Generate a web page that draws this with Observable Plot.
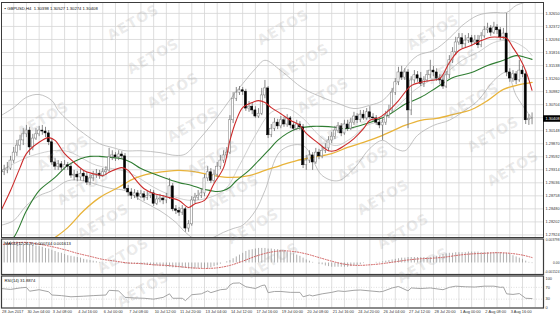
<!DOCTYPE html>
<html><head><meta charset="utf-8">
<script src="https://cdn.jsdelivr.net/npm/d3@7"></script>
<script src="https://cdn.jsdelivr.net/npm/@observablehq/plot@0.6"></script>
<style>
html,body{margin:0;padding:0;background:#fff;}
#wrap{position:relative;width:560px;height:317px;overflow:hidden;background:#fff;}
#wrap > div.panel{position:absolute;left:0;}
.wm{position:absolute;font:bold 14px "DejaVu Sans",sans-serif;letter-spacing:1px;color:rgba(150,150,150,0.2);transform:translate(-50%,-50%) rotate(-30deg);white-space:nowrap;pointer-events:none;}
</style></head>
<body><div id="wrap"></div>
<script>
// ---------- DATA ----------
const symbolTitle = "\u25AA GBPUSD,H4  1.30398 1.30527 1.30274 1.30408";
const openP = [1.2919,1.2926,1.2930,1.2934,1.2951,1.2968,1.2983,1.2994,1.3007,1.3015,
1.2979,1.2998,1.3007,1.3015,1.3013,1.3009,1.2990,1.2947,1.2938,1.2943,
1.2936,1.2941,1.2938,1.2919,1.2921,1.2915,1.2923,1.2917,1.2904,1.2913,
1.2919,1.2923,1.2919,1.2926,1.2930,1.2958,1.2962,1.2958,1.2964,1.2960,
1.2891,1.2883,1.2876,1.2881,1.2874,1.2879,1.2872,1.2876,1.2881,1.2859,
1.2868,1.2870,1.2866,1.2872,1.2896,1.2847,1.2844,1.2840,1.2847,1.2806,
1.2815,1.2866,1.2872,1.2876,1.2881,1.2913,1.2926,1.2908,1.2921,1.2938,
1.2951,1.2962,1.2968,1.3037,1.3083,1.3096,1.3101,1.3098,1.3062,1.3066,
1.3058,1.3045,1.3051,1.3090,1.3105,1.3005,1.3019,1.3032,1.3024,1.3037,
1.3028,1.3041,1.3026,1.3019,1.3028,1.3022,1.2941,1.2951,1.2962,1.2947,
1.2968,1.2960,1.2972,1.2977,1.2994,1.3002,1.3015,1.3024,1.3009,1.3028,
1.3019,1.3032,1.3045,1.3037,1.3049,1.3041,1.3054,1.3043,1.3041,1.3032,
1.3026,1.3032,1.3047,1.3058,1.3096,1.3118,1.3139,1.3128,1.3139,1.3058,
1.3122,1.3133,1.3126,1.3115,1.3122,1.3133,1.3143,1.3139,1.3126,1.3122,
1.3109,1.3133,1.3165,1.3182,1.3203,1.3212,1.3199,1.3207,1.3212,1.3203,
1.3207,1.3197,1.3216,1.3229,1.3233,1.3224,1.3235,1.3229,1.3214,1.3222,
1.3139,1.3126,1.3135,1.3122,1.3143,1.3135,1.3037,1.30398];
const highP = [1.2936,1.2941,1.2947,1.2960,1.2979,1.2994,1.3005,1.3019,1.3026,1.3022,
1.3007,1.3019,1.3024,1.3026,1.3022,1.3015,1.2998,1.2955,1.2951,1.2949,
1.2951,1.2947,1.2945,1.2930,1.2928,1.2932,1.2930,1.2926,1.2921,1.2928,
1.2932,1.2930,1.2934,1.2938,1.2977,1.2972,1.2968,1.2972,1.2970,1.2966,
1.2898,1.2891,1.2889,1.2887,1.2887,1.2885,1.2885,1.2889,1.2887,1.2876,
1.2879,1.2876,1.2881,1.2913,1.2902,1.2855,1.2851,1.2855,1.2851,1.2823,
1.2874,1.2881,1.2887,1.2891,1.2921,1.2938,1.2934,1.2930,1.2947,1.2962,
1.2972,1.2979,1.3047,1.3096,1.3107,1.3109,1.3107,1.3103,1.3077,1.3073,
1.3066,1.3062,1.3105,1.3122,1.3109,1.3028,1.3041,1.3039,1.3045,1.3043,
1.3049,1.3045,1.3034,1.3037,1.3034,1.3028,1.2962,1.2972,1.2968,1.2977,
1.2975,1.2981,1.2987,1.3002,1.3011,1.3024,1.3032,1.3030,1.3037,1.3037,
1.3041,1.3054,1.3051,1.3058,1.3058,1.3062,1.3066,1.3051,1.3047,1.3041,
1.3043,1.3056,1.3069,1.3105,1.3126,1.3150,1.3152,1.3147,1.3145,1.3130,
1.3143,1.3141,1.3139,1.3130,1.3143,1.3165,1.3152,1.3147,1.3135,1.3133,
1.3141,1.3175,1.3192,1.3214,1.3222,1.3222,1.3218,1.3222,1.3218,1.3218,
1.3218,1.3224,1.3237,1.3244,1.3239,1.3246,1.3241,1.3235,1.3233,1.3265,
1.3147,1.3143,1.3141,1.3165,1.3152,1.3143,1.3049,1.30527];
const lowP = [1.2913,1.2919,1.2923,1.2930,1.2945,1.2960,1.2972,1.2983,1.3000,1.2962,
1.2972,1.2994,1.3002,1.3005,1.3000,1.2983,1.2941,1.2930,1.2930,1.2926,
1.2930,1.2930,1.2913,1.2908,1.2906,1.2908,1.2906,1.2898,1.2898,1.2906,
1.2913,1.2911,1.2915,1.2919,1.2926,1.2951,1.2949,1.2951,1.2953,1.2887,
1.2874,1.2868,1.2870,1.2866,1.2870,1.2864,1.2866,1.2870,1.2853,1.2855,
1.2861,1.2857,1.2859,1.2868,1.2842,1.2836,1.2832,1.2834,1.2798,1.2798,
1.2811,1.2859,1.2866,1.2870,1.2874,1.2906,1.2902,1.2902,1.2915,1.2932,
1.2945,1.2955,1.2964,1.3030,1.3077,1.3090,1.3090,1.3056,1.3054,1.3049,
1.3041,1.3041,1.3047,1.3083,1.2998,1.3000,1.3013,1.3017,1.3019,1.3022,
1.3022,1.3019,1.3013,1.3015,1.3015,1.2934,1.2930,1.2945,1.2930,1.2943,
1.2953,1.2955,1.2966,1.2970,1.2987,1.2996,1.3009,1.3002,1.3005,1.3013,
1.3015,1.3026,1.3030,1.3032,1.3037,1.3037,1.3039,1.3034,1.3026,1.3019,
1.2994,1.3026,1.3041,1.3054,1.3090,1.3111,1.3122,1.3122,1.3019,1.3047,
1.3115,1.3118,1.3109,1.3107,1.3118,1.3126,1.3130,1.3120,1.3113,1.3103,
1.3105,1.3126,1.3158,1.3175,1.3197,1.3190,1.3192,1.3201,1.3194,1.3199,
1.3190,1.3192,1.3212,1.3222,1.3216,1.3220,1.3220,1.3207,1.3209,1.3130,
1.3118,1.3118,1.3113,1.3118,1.3128,1.3028,1.3026,1.30274];
const closeP = [1.2926,1.2930,1.2934,1.2951,1.2968,1.2983,1.2994,1.3007,1.3015,1.2979,
1.2998,1.3007,1.3015,1.3013,1.3009,1.2990,1.2947,1.2938,1.2943,1.2936,
1.2941,1.2938,1.2919,1.2921,1.2915,1.2923,1.2917,1.2904,1.2913,1.2919,
1.2923,1.2919,1.2926,1.2930,1.2958,1.2962,1.2958,1.2964,1.2960,1.2891,
1.2883,1.2876,1.2881,1.2874,1.2879,1.2872,1.2876,1.2881,1.2859,1.2868,
1.2870,1.2866,1.2872,1.2896,1.2847,1.2844,1.2840,1.2847,1.2806,1.2815,
1.2866,1.2872,1.2876,1.2881,1.2913,1.2926,1.2908,1.2921,1.2938,1.2951,
1.2962,1.2968,1.3037,1.3083,1.3096,1.3101,1.3098,1.3062,1.3066,1.3058,
1.3045,1.3051,1.3090,1.3105,1.3005,1.3019,1.3032,1.3024,1.3037,1.3028,
1.3041,1.3026,1.3019,1.3028,1.3022,1.2941,1.2951,1.2962,1.2947,1.2968,
1.2960,1.2972,1.2977,1.2994,1.3002,1.3015,1.3024,1.3009,1.3028,1.3019,
1.3032,1.3045,1.3037,1.3049,1.3041,1.3054,1.3043,1.3041,1.3032,1.3026,
1.3032,1.3047,1.3058,1.3096,1.3118,1.3139,1.3128,1.3139,1.3058,1.3122,
1.3133,1.3126,1.3115,1.3122,1.3133,1.3143,1.3139,1.3126,1.3122,1.3109,
1.3133,1.3165,1.3182,1.3203,1.3212,1.3199,1.3207,1.3212,1.3203,1.3207,
1.3197,1.3216,1.3229,1.3233,1.3224,1.3235,1.3229,1.3214,1.3222,1.3139,
1.3126,1.3135,1.3122,1.3143,1.3135,1.3037,1.3040,1.30408];

// fast MA (red)
const redIdx = [0,3,6,8,12,15,17,20,23,26,29,32,34,38,40,42,45,48,51,53,56,59,61,64,67,70,72,74,76,79,81,83,85,88,91,94,96,100,103,105,108,111,114,116,119,122,125,129,132,135,138,141,144,148,151,154,157,159,161,163,165,167];
const redVal = [1.2844,1.2887,1.2936,1.2966,1.2990,1.3000,1.2994,1.2966,1.2947,1.2930,1.2923,1.2919,1.2926,1.2936,1.2930,1.2913,1.2891,1.2881,1.2876,1.2872,1.2866,1.2851,1.2859,1.2866,1.2902,1.2936,1.2994,1.3037,1.3064,1.3075,1.3079,1.3075,1.3064,1.3051,1.3037,1.3026,1.3009,1.2987,1.2972,1.2972,1.2983,1.2998,1.3019,1.3037,1.3043,1.3058,1.3079,1.3111,1.3118,1.3122,1.3126,1.3160,1.3186,1.3197,1.3207,1.3214,1.3214,1.3212,1.3192,1.3171,1.3143,1.3101];
// medium MA (green)
const greenIdx = [1,4,8,12,17,21,25,28,31,34,38,41,44,48,52,56,60,63,66,68,70,72,74,78,81,84,87,90,93,98,101,105,108,111,115,122,127,132,137,142,148,153,158,162,165,167];
const greenVal = [1.2772,1.2787,1.2844,1.2887,1.2915,1.2941,1.2955,1.2960,1.2960,1.2958,1.2955,1.2947,1.2934,1.2923,1.2913,1.2904,1.2898,1.2891,1.2887,1.2885,1.2887,1.2894,1.2908,1.2930,1.2951,1.2972,1.2994,1.3009,1.3019,1.3024,1.3024,1.3022,1.3019,1.3022,1.3030,1.3049,1.3071,1.3086,1.3107,1.3128,1.3139,1.3154,1.3165,1.3175,1.3171,1.3167];
// slow MA (yellow)
const yellowIdx = [13,17,21,26,31,37,42,47,52,56,62,67,72,78,83,88,93,98,104,109,114,120,127,132,137,142,148,153,158,163,167];
const yellowVal = [1.2770,1.2787,1.2808,1.2844,1.2872,1.2894,1.2913,1.2923,1.2928,1.2930,1.2926,1.2919,1.2915,1.2919,1.2930,1.2941,1.2951,1.2958,1.2966,1.2979,1.2990,1.3005,1.3026,1.3037,1.3041,1.3049,1.3060,1.3079,1.3103,1.3113,1.3118];
// Bollinger bands (grey)
const bbUpIdx = [0,4,8,12,16,18,21,26,31,35,39,44,50,55,58,62,66,70,73,76,80,83,88,95,101,106,111,116,120,124,127,131,136,141,145,150,155,159,162,167];
const bbUpVal = [1.3047,1.3064,1.3086,1.3092,1.3079,1.3058,1.3037,1.3009,1.2987,1.2979,1.2972,1.2972,1.2968,1.2962,1.2965,1.2994,1.3026,1.3062,1.3090,1.3115,1.3147,1.3165,1.3143,1.3105,1.3086,1.3073,1.3062,1.3069,1.3079,1.3111,1.3147,1.3175,1.3186,1.3212,1.3239,1.3261,1.3267,1.3267,1.3282,1.3293];
const bbMidIdx = [0,10,20,30,40,50,60,70,75,80,85,90,95,100,105,110,115,120,125,130,135,140,145,150,155,160,165,167];
const bbMidVal = [1.2930,1.2962,1.2972,1.2941,1.2926,1.2887,1.2866,1.2887,1.2941,1.3005,1.3054,1.3062,1.3041,1.3005,1.2983,1.2998,1.3026,1.3037,1.3069,1.3101,1.3122,1.3139,1.3165,1.3182,1.3203,1.3207,1.3190,1.3175];
const bbLoIdx = [0,4,8,12,16,21,26,31,35,39,44,50,55,58,62,66,70,73,76,80,83,88,95,101,106,111,116,120,124,127,131,136,141,145,150,155,159,162,167];
const bbLoVal = [1.2813,1.2823,1.2855,1.2876,1.2887,1.2908,1.2908,1.2898,1.2891,1.2887,1.2866,1.2844,1.2819,1.2798,1.2780,1.2785,1.2798,1.2806,1.2813,1.2844,1.2887,1.2972,1.2983,1.2919,1.2908,1.2934,1.2977,1.2994,1.2977,1.2972,1.3005,1.3026,1.3037,1.3054,1.3079,1.3122,1.3139,1.3090,1.3041];

// MACD(12,26,9) main (histogram) for every bar, and signal (dotted)
const macdMain = [0.0034,0.0035,0.0035,0.0035,0.0035,0.0035,0.0034,0.0033,0.0032,0.0031,
0.0029,0.0028,0.0027,0.0026,0.0024,0.0023,0.0021,0.0019,0.0017,0.0016,
0.0014,0.0012,0.0011,0.0010,0.0009,0.0008,0.0006,0.0005,0.0004,0.0003,
0.0002,0.0001,0.0000,-0.0001,0.0000,0.0000,0.0000,-0.0001,-0.0001,-0.0002,
-0.0002,-0.0002,-0.0002,-0.0002,-0.0003,-0.0003,-0.0004,-0.0004,-0.0005,-0.0005,
-0.0006,-0.0006,-0.0007,-0.0007,-0.0008,-0.0008,-0.0008,-0.0009,-0.0009,-0.0010,
-0.0010,-0.0010,-0.0009,-0.0009,-0.0009,-0.0009,-0.0008,-0.0006,-0.0004,-0.0002,
0.0000,0.0002,0.0004,0.0007,0.0010,0.0013,0.0016,0.0019,0.0021,0.0022,
0.0023,0.0024,0.0024,0.0024,0.0023,0.0023,0.0022,0.0022,0.0021,0.0020,
0.0018,0.0017,0.0015,0.0013,0.0011,0.0008,0.0005,0.0003,0.0001,0.0000,
-0.0002,-0.0003,-0.0005,-0.0006,-0.0007,-0.0007,-0.0007,-0.0007,-0.0007,-0.0007,
-0.0006,-0.0005,-0.0004,-0.0003,-0.0001,0.0000,0.0000,0.0000,0.0001,0.0001,
0.0002,0.0003,0.0004,0.0005,0.0006,0.0007,0.0008,0.0008,0.0009,0.0009,
0.0009,0.0009,0.0009,0.0009,0.0009,0.0009,0.0010,0.0011,0.0012,0.0014,
0.0015,0.0016,0.0016,0.0017,0.0017,0.0017,0.0017,0.0018,0.0018,0.0018,
0.0018,0.0017,0.0017,0.0017,0.0017,0.0017,0.0017,0.0017,0.0016,0.0016,
0.0014,0.0012,0.0010,0.0008,0.0006,0.0003,0.0001,-0.0001];
const sigIdx = [0,4,8,12,16,20,24,28,32,36,40,44,48,52,56,60,64,68,72,76,80,84,88,92,96,100,104,108,112,116,120,124,128,132,136,140,144,148,152,156,160,164,167];
const sigVal = [0.0030,0.0033,0.0034,0.0031,0.0027,0.0022,0.0016,0.0011,0.0006,0.0003,0.0000,-0.0001,-0.0003,-0.0004,-0.0006,-0.0008,-0.0009,-0.0008,-0.0004,0.0003,0.0011,0.0017,0.0020,0.0019,0.0015,0.0009,0.0003,-0.0002,-0.0004,-0.0003,-0.0001,0.0002,0.0005,0.0007,0.0008,0.0010,0.0013,0.0015,0.0016,0.0017,0.0016,0.0013,0.0009];
const macdTitle = "MACD(12,26,9) 0.000744 0.001613";
const macdTicks = [0.003798, 0, -0.001524];
const macdTickText = ["0.003798", "0.00", "-0.001524"];

// RSI(14)
const rsiIdx = [0,3,6,8,9,12,15,16,19,22,26,29,33,34,37,39,42,45,48,51,53,54,57,58,60,63,65,66,69,71,72,73,75,77,80,82,83,84,86,88,91,94,95,97,98,101,104,106,108,111,113,116,119,120,123,125,128,129,132,135,139,141,143,146,149,152,155,157,158,159,161,163,165,167];
const rsiVal = [66,63,68,70,57,62,55,44,42,38,40,42,44,60,58,36,34,33,30,36,48,33,33,25,45,48,58,52,62,64,78,84,85,72,66,76,78,52,56,56,53,53,38,44,41,48,53,58,56,60,61,58,55,56,68,73,58,68,66,68,62,70,74,72,71,74,74,70,71,48,46,49,33,32];
const rsiTitle = "RSI(14) 31.8874";
const rsiTicks = [100, 70, 30, 0];

// price axis labels
const priceTicks = [1.32650,1.32372,1.32094,1.31816,1.31538,1.31260,1.30982,1.30704,1.30148,1.29870,1.29592,1.29314,1.29036,1.28758,1.28480,1.28202,1.27924];
const gridPrices = [1.32650,1.32372,1.32094,1.31816,1.31538,1.31260,1.30982,1.30704,1.30426,1.30148,1.29870,1.29592,1.29314,1.29036,1.28758,1.28480,1.28202,1.27924];
const lastPrice = 1.30408;

// time axis labels (every 8 H4 bars)
const timeIdx = [0,8,16,24,32,40,48,56,64,72,80,88,96,104,112,120,128,136,144,152,160];
const timeText = ["28 Jun 2017","30 Jun 04:00","3 Jul 08:00","4 Jul 16:00","6 Jul 00:00","7 Jul 08:00","10 Jul 12:00","11 Jul 20:00","13 Jul 04:00","14 Jul 12:00","17 Jul 16:00","19 Jul 00:00","20 Jul 08:00","21 Jul 16:00","24 Jul 20:00","26 Jul 04:00","27 Jul 12:00","28 Jul 20:00","1 Aug 00:00","2 Aug 08:00","3 Aug 16:00"];

// ---------- LAYOUT ----------
const W = 560, MR = 17, ML = 1;
const XD = [0.16, 170.6];
const FONT = "Liberation Sans, Arial, sans-serif";
const FS = 3.9;
const gridIdx = d3.range(0, 172, 4);

const bars = d3.range(closeP.length).map(i => ({i, o: openP[i], h: highP[i], l: lowP[i], c: closeP[i]}));
const zipL = (ix, v) => ix.map((x, k) => ({i: x, v: v[k]}));

const wrap = document.getElementById("wrap");
function addPanel(top, chart) {
  const d = document.createElement("div");
  d.className = "panel"; d.style.top = top + "px";
  d.appendChild(chart); wrap.appendChild(d);
}
const baseStyle = {background: "transparent", fontFamily: FONT, overflow: "visible"};

// main price panel
const main = Plot.plot({
  width: W, height: 238, marginLeft: ML, marginRight: MR, marginTop: 2, marginBottom: 1,
  style: baseStyle,
  x: {type: "linear", domain: XD, axis: null},
  y: {domain: [1.27869, 1.32883], axis: null},
  marks: [
    Plot.ruleX(gridIdx, {stroke: "#d6d6d6", strokeWidth: 0.8, clip: true}),
    Plot.ruleY(gridPrices, {stroke: "#d6d6d6", strokeWidth: 0.8}),
    Plot.line(zipL(bbUpIdx, bbUpVal), {x: "i", y: "v", stroke: "#b4b4b4", strokeWidth: 0.8, curve: "catmull-rom", clip: true}),
    Plot.line(zipL(bbMidIdx, bbMidVal), {x: "i", y: "v", stroke: "#c4c4c4", strokeWidth: 0.8, curve: "catmull-rom", clip: true}),
    Plot.line(zipL(bbLoIdx, bbLoVal), {x: "i", y: "v", stroke: "#b4b4b4", strokeWidth: 0.8, curve: "catmull-rom", clip: true}),
    Plot.line(zipL(yellowIdx, yellowVal), {x: "i", y: "v", stroke: "#e8b33a", strokeWidth: 1.3, curve: "catmull-rom", clip: true}),
    Plot.line(zipL(greenIdx, greenVal), {x: "i", y: "v", stroke: "#2f7d32", strokeWidth: 1.1, curve: "catmull-rom", clip: true}),
    Plot.ruleX(bars, {x: "i", y1: "l", y2: "h", stroke: "#6a6a6a", strokeWidth: 0.8, clip: true}),
    Plot.rect(bars, {x1: d => d.i - 0.33, x2: d => d.i + 0.33, y1: "o", y2: d => (Math.abs(d.c - d.o) < 0.00005 ? d.o + 0.00004 : d.c),
      fill: d => d.c >= d.o ? "#ffffff" : "#000000", stroke: d => d.c >= d.o ? "#777" : "#000", strokeWidth: 0.5, clip: true}),
    Plot.line(zipL(redIdx, redVal), {x: "i", y: "v", stroke: "#cc2a2a", strokeWidth: 1.1, curve: "catmull-rom", clip: true}),
    Plot.frame({stroke: "#3c3c3c", strokeWidth: 1}),
    Plot.text(priceTicks, {y: d => d, text: d => d.toFixed(5), frameAnchor: "right", textAnchor: "start", dx: 2, fontSize: FS, fill: "#333"}),
    Plot.ruleY([lastPrice], {x1: XD[1], x2: XD[1] + 5.6, stroke: "#000", strokeWidth: 6.5}),
    Plot.text([lastPrice], {y: d => d, text: d => d.toFixed(5), frameAnchor: "right", textAnchor: "start", dx: 2, fontSize: FS, fill: "#fff"}),
    Plot.text([symbolTitle], {frameAnchor: "top-left", dx: 3, dy: 4.5, textAnchor: "start", fontSize: 4.2, fill: "#111"})
  ]
});
addPanel(0, main);

// MACD panel
const macdData = macdMain.map((v, i) => ({i, v}));
const macd = Plot.plot({
  width: W, height: 38, marginLeft: ML, marginRight: MR, marginTop: 1.5, marginBottom: 1,
  style: baseStyle,
  x: {type: "linear", domain: XD, axis: null},
  y: {domain: [-0.0019, 0.00396], axis: null},
  marks: [
    Plot.ruleX(gridIdx, {stroke: "#d6d6d6", strokeWidth: 0.8, clip: true}),
    Plot.ruleX(macdData, {x: "i", y1: 0, y2: "v", stroke: "#8c8c8c", strokeWidth: 0.7, clip: true}),
    Plot.line(zipL(sigIdx, sigVal), {x: "i", y: "v", stroke: "#d05a5a", strokeWidth: 1, strokeDasharray: "1,1.6", curve: "catmull-rom", clip: true}),
    Plot.frame({stroke: "#3c3c3c", strokeWidth: 1.2}),
    Plot.text(macdTicks, {y: d => d, text: (d, k) => macdTickText[k], frameAnchor: "right", textAnchor: "end", dx: 16, fontSize: 3.3, fill: "#333"}),
    Plot.text([macdTitle], {frameAnchor: "top-left", dx: 3, dy: 3.5, textAnchor: "start", fontSize: 4.2, fill: "#111"})
  ]
});
addPanel(237, macd);

// RSI panel + time axis
const rsi = Plot.plot({
  width: W, height: 43, marginLeft: ML, marginRight: MR, marginTop: 1.5, marginBottom: 9.5,
  style: baseStyle,
  x: {type: "linear", domain: XD, axis: null},
  y: {domain: [0, 108.5], axis: null},
  marks: [
    Plot.ruleX(gridIdx, {stroke: "#d6d6d6", strokeWidth: 0.8, clip: true}),
    Plot.ruleY([70, 30], {stroke: "#cfcfcf", strokeWidth: 0.7, strokeDasharray: "1,1.5"}),
    Plot.line(zipL(rsiIdx, rsiVal), {x: "i", y: "v", stroke: "#9a9a9a", strokeWidth: 0.9, clip: true}),
    Plot.frame({stroke: "#3c3c3c", strokeWidth: 1.2}),
    Plot.text(rsiTicks, {y: d => d, text: d => String(d), frameAnchor: "right", textAnchor: "start", dx: 2, fontSize: FS, fill: "#333"}),
    Plot.text([rsiTitle], {frameAnchor: "top-left", dx: 3, dy: 3.5, textAnchor: "start", fontSize: 4.2, fill: "#111"}),
    Plot.text(timeIdx, {x: d => d, text: (d, k) => timeText[k], frameAnchor: "bottom", textAnchor: "start", dx: 1, dy: 5, fontSize: FS, fill: "#333"})
  ]
});
addPanel(274, rsi);

// watermark (AETOS), laid over the picture (only copies that fit inside it)
const wmText = "AETOS";
for (let n = -2; n <= 4; n++) {
  for (let m = -5; m <= 9; m++) {
    const cx = 133 + m * 20 + n * 150, cy = 22 + m * 34 + n * 5;
    if (cx < 30 || cx > 530 || cy < 18 || cy > 290) continue;
    const s = document.createElement("div");
    s.className = "wm"; s.textContent = wmText;
    s.style.left = cx + "px"; s.style.top = cy + "px";
    wrap.appendChild(s);
  }
}
</script>
</body></html>
